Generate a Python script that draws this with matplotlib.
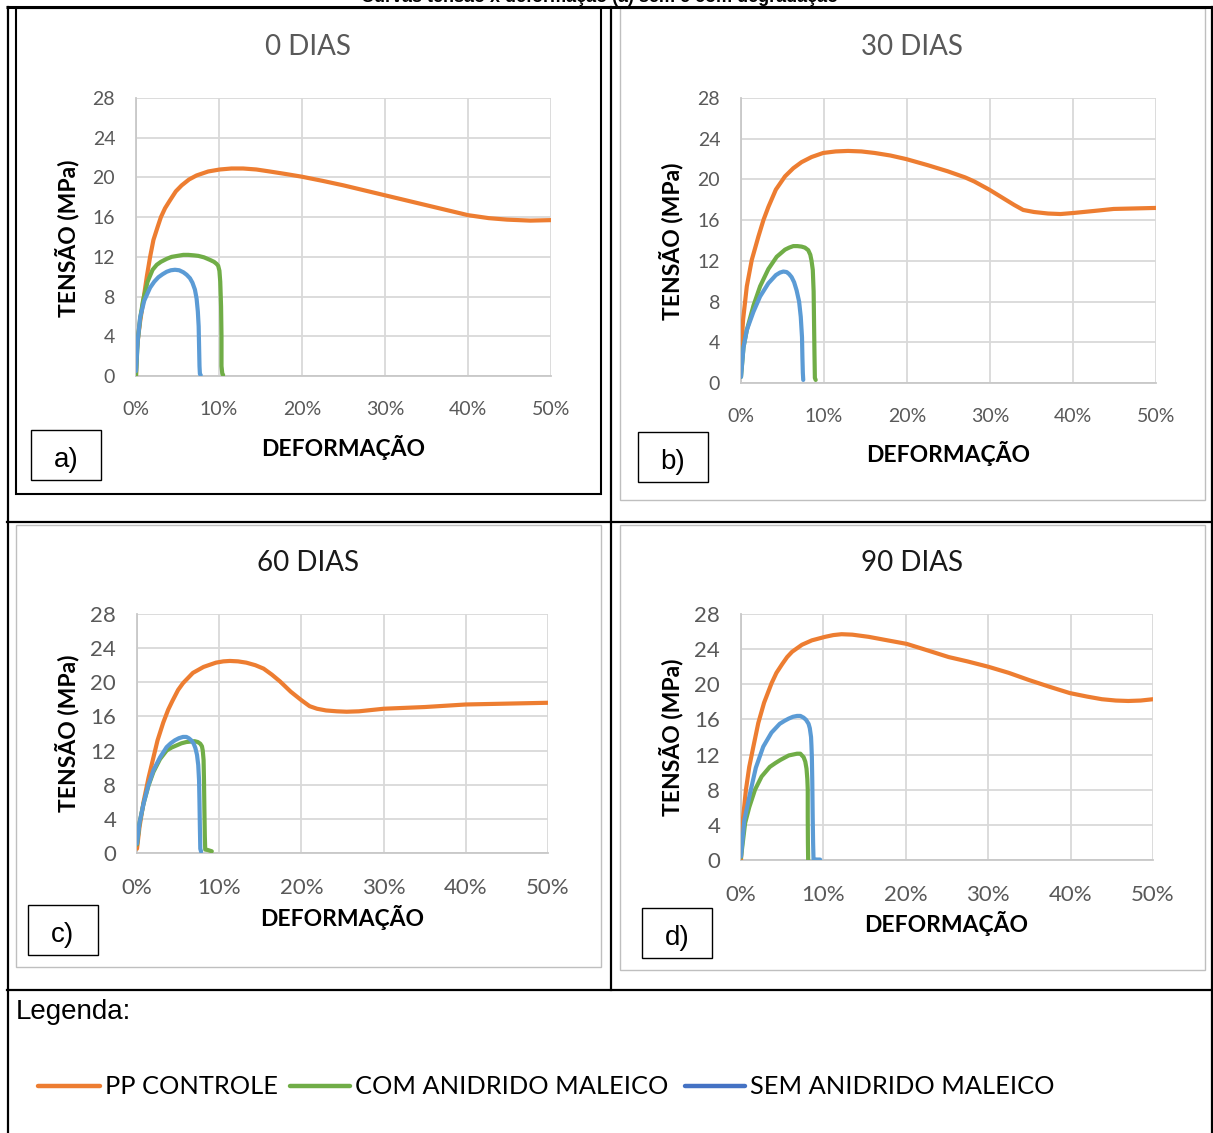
import matplotlib
matplotlib.use("Agg")
import matplotlib.pyplot as plt
from matplotlib.patches import Rectangle
from matplotlib.ticker import PercentFormatter, MultipleLocator

W, H = 1213, 1133

# series colours
ORANGE = "#ED7D31"
GREEN = "#70AD47"
BLUE = "#5B9BD5"
BLUE_LEG = "#4472C4"

# ---- data (strain in %, stress in MPa) ----
# 0 DIAS
a_pp_x = [0, 0.1, 0.3, 0.5, 0.9, 1.3, 1.7, 2.1, 2.6, 3.0, 3.5, 4.1, 4.8, 5.5, 6.4, 7.3, 8.7, 10.1, 11.5, 12.9,
          14.5, 16.1, 18, 20, 22.5, 25, 27.5, 30, 32.5, 35, 37.5, 40, 42.5, 44.7, 47.5, 50]
a_pp_y = [0, 2.6, 4.2, 5.5, 7.7, 10.0, 12.0, 13.7, 15.0, 16.0, 16.9, 17.7, 18.6, 19.2, 19.8, 20.2, 20.6, 20.8, 20.9, 20.9,
          20.8, 20.6, 20.35, 20.07, 19.65, 19.2, 18.7, 18.2, 17.7, 17.2, 16.7, 16.2, 15.9, 15.75, 15.65, 15.7]
a_com_x = [0, 0.2, 0.5, 0.85, 1.4, 2, 2.5, 3, 3.7, 4.3, 5, 5.7, 6.3, 7, 7.5, 8.2, 8.9, 9.4, 9.7, 9.9,
           10.05, 10.15, 10.25, 10.3, 10.3, 10.4, 10.5]
a_com_y = [0, 3.5, 5.8, 7.6, 9.5, 10.7, 11.2, 11.5, 11.8, 12.0, 12.1, 12.2, 12.2, 12.15, 12.1, 11.95, 11.7, 11.5, 11.3, 11.1,
           10.6, 9.5, 7, 4, 1, 0.2, 0.1]
a_sem_x = [0, 0.2, 0.5, 1, 1.7, 2.2, 2.7, 3.2, 3.7, 4.2, 4.7, 5.2, 5.7, 6.1, 6.5, 6.8, 7.1, 7.3, 7.45, 7.55,
           7.6, 7.65, 7.7, 7.8]
a_sem_y = [0.5, 3.5, 5.9, 7.6, 8.9, 9.5, 9.95, 10.25, 10.5, 10.65, 10.7, 10.65, 10.45, 10.2, 9.85, 9.4, 8.7, 7.8, 6.5, 5.0,
           3.0, 1.0, 0.2, 0.1]

# 30 DIAS
b_pp_x = [0, 0.25, 0.7, 1.3, 2.1, 2.7, 3.3, 4.2, 5.3, 6.3, 7.3, 8.5, 9.9, 11.4, 12.9, 14.5, 16.1, 18, 19.9, 22.5,
          24.9, 27, 28.1, 29.9, 31.5, 32.9, 34, 35.3, 37, 38.5, 40, 42.5, 44.9, 47.5, 50]
b_pp_y = [2.8, 6.2, 9.5, 12.1, 14.4, 16.0, 17.3, 19.0, 20.3, 21.1, 21.7, 22.2, 22.6, 22.75, 22.8, 22.75, 22.6, 22.35, 22.0, 21.4,
          20.8, 20.2, 19.8, 19.0, 18.2, 17.5, 17.0, 16.8, 16.65, 16.6, 16.7, 16.9, 17.1, 17.15, 17.2]
b_com_x = [0, 0.3, 0.7, 1.5, 2.3, 3.3, 4.3, 5.3, 5.8, 6.3, 6.8, 7.3, 7.7, 8.1, 8.35, 8.5, 8.65, 8.75, 8.8, 8.85,
           8.9, 9.0]
b_com_y = [0.6, 3.5, 5.2, 7.6, 9.5, 11.2, 12.4, 13.1, 13.3, 13.45, 13.45, 13.4, 13.3, 13.05, 12.6, 12.0, 11.1, 9, 6, 3,
           0.5, 0.3]
b_sem_x = [0, 0.3, 0.7, 1.5, 2.3, 3.3, 4.2, 4.7, 5.1, 5.5, 5.8, 6.1, 6.4, 6.7, 7.0, 7.2, 7.35, 7.4, 7.45, 7.5]
b_sem_y = [0.6, 3.5, 5.2, 7.0, 8.5, 9.8, 10.6, 10.85, 10.95, 10.9, 10.7, 10.4, 9.9, 9.1, 8.0, 6.5, 4.5, 2.5, 1.0, 0.3]

# 60 DIAS
c_pp_x = [0, 0.3, 0.8, 1.4, 2.0, 2.5, 3.2, 3.8, 4.3, 5.0, 5.6, 6.8, 8.1, 9.6, 10.5, 11.3, 12.3, 13.3, 14.4, 15.4,
          16.4, 17.4, 18.7, 20, 21, 21.9, 23, 24.3, 25.5, 27, 30, 32.5, 35, 37.5, 40, 42.5, 45, 47.5, 50]
c_pp_y = [0.5, 3.0, 6.0, 8.8, 11.2, 13.2, 15.3, 16.8, 17.8, 19.1, 19.9, 21.1, 21.8, 22.3, 22.45, 22.5, 22.45, 22.3, 22.0, 21.6,
          20.9, 20.1, 18.9, 17.9, 17.2, 16.9, 16.7, 16.6, 16.55, 16.6, 16.9, 17.0, 17.1, 17.25, 17.4, 17.45, 17.5, 17.55, 17.6]
c_com_x = [0, 0.3, 0.8, 1.4, 2.0, 2.8, 3.6, 4.2, 4.8, 5.4, 6.0, 6.5, 7.0, 7.4, 7.7, 7.9, 8.0, 8.1, 8.15, 8.2,
           8.25, 8.3, 8.6, 9.1]
c_com_y = [1.0, 3.5, 5.8, 7.9, 9.5, 11.0, 12.0, 12.35, 12.6, 12.85, 13.0, 13.05, 13.1, 13.0, 12.8, 12.5, 12.0, 10.9, 8.5, 5.0,
           2.0, 0.4, 0.35, 0.2]
c_sem_x = [0, 0.3, 0.8, 1.4, 2.0, 2.8, 3.6, 4.1, 4.6, 5.1, 5.6, 6.0, 6.3, 6.6, 6.9, 7.1, 7.3, 7.45, 7.55, 7.6,
           7.65, 7.7, 7.8]
c_sem_y = [1.1, 3.5, 5.8, 8.0, 9.7, 11.2, 12.4, 12.85, 13.2, 13.45, 13.6, 13.6, 13.45, 13.2, 12.8, 12.3, 11.5, 10.3, 8.5, 6.0,
           3.0, 0.5, 0.15]

# 90 DIAS
d_pp_x = [0, 0.1, 0.6, 1.0, 1.5, 2.1, 2.8, 3.7, 4.3, 5.0, 5.6, 6.2, 7.4, 8.6, 10.2, 11.2, 12.2, 13.5, 15.5, 17.5,
          20.1, 22.5, 25.2, 27.5, 30, 32.5, 34.9, 37.5, 39.9, 42, 43.8, 45.5, 47, 48.5, 50]
d_pp_y = [0, 3.4, 8.0, 10.6, 12.9, 15.6, 17.9, 20.1, 21.3, 22.3, 23.1, 23.7, 24.5, 25.0, 25.4, 25.6, 25.7, 25.65, 25.4, 25.05,
          24.6, 23.9, 23.1, 22.6, 22.0, 21.3, 20.5, 19.7, 19.0, 18.6, 18.3, 18.15, 18.1, 18.15, 18.3]
d_com_x = [0, 0.5, 1.0, 1.7, 2.5, 3.5, 4.2, 4.8, 5.3, 5.8, 6.3, 6.8, 7.2, 7.6, 7.8, 7.95, 8.05, 8.1, 8.1, 8.12, 8.15]
d_com_y = [0.3, 4.2, 6.0, 8.0, 9.5, 10.6, 11.05, 11.4, 11.65, 11.9, 12.0, 12.1, 12.1, 11.7, 11.2, 10.4, 9.2, 8.0, 5, 2, 0]
d_sem_x = [0, 0.4, 1.1, 1.8, 2.7, 3.7, 4.7, 5.3, 5.8, 6.3, 6.8, 7.2, 7.6, 7.9, 8.2, 8.35, 8.5, 8.55, 8.6, 8.65,
           8.7, 8.75, 8.8, 9.2, 9.6]
d_sem_y = [0.4, 4.5, 7.6, 10.5, 12.9, 14.5, 15.5, 15.85, 16.1, 16.3, 16.4, 16.4, 16.2, 15.95, 15.5, 15.0, 14.0, 13.0, 11.7, 9,
           5, 2, 0.1, 0.05, 0.05]

titles = ["0 DIAS", "30 DIAS", "60 DIAS", "90 DIAS"]
letters = ["a)", "b)", "c)", "d)"]
series_names = ["PP CONTROLE", "COM ANIDRIDO MALEICO", "SEM ANIDRIDO MALEICO"]

panels = [
    [(a_pp_x, a_pp_y), (a_com_x, a_com_y), (a_sem_x, a_sem_y)],
    [(b_pp_x, b_pp_y), (b_com_x, b_com_y), (b_sem_x, b_sem_y)],
    [(c_pp_x, c_pp_y), (c_com_x, c_com_y), (c_sem_x, c_sem_y)],
    [(d_pp_x, d_pp_y), (d_com_x, d_com_y), (d_sem_x, d_sem_y)],
]

# ---- layout in pixels ----
# plot areas: left, right, top, bottom
plot_px = [(136, 551, 98, 376), (741, 1156, 98, 383), (137, 548, 614, 853), (741, 1153, 614, 860)]
frames = [(16, 601, 8, 494), (620, 1205, 8, 500), (16, 601, 525, 967), (620, 1205, 525, 970)]
frame_cols = ["black", "#BFBFBF", "#BFBFBF", "#BFBFBF"]
title_pos = [(308, 47), (912, 47), (308, 563), (912, 563)]
title_cols = ["#595959", "#595959", "#1a1a1a", "#1a1a1a"]
xlab_pos = [(343, 447), (948, 453), (342, 918), (946, 923)]
ylab_pos = [(67, 238), (671, 241), (67, 733), (671, 737)]
box_pos = [(31, 430), (638, 432), (28, 905), (642, 908)]
tick_fs = [14, 14, 16, 16]

CHART_FONT = "Lato"
BOX_FONT = "Liberation Sans"

fig = plt.figure(figsize=(W / 100, H / 100), dpi=100)

bg = fig.add_axes([0, 0, 1, 1])
bg.set_xlim(0, W)
bg.set_ylim(H, 0)
bg.axis("off")

# heading of the page, cut off at the very top
bg.text(600, 2.5, "Curvas tensão x deformação (a) sem e com degradação", ha="center", va="baseline",
        fontsize=13, fontweight="bold", family=BOX_FONT, color="black")

# table lines
lw_tab = 1.6
bg.plot([6, 1213], [7, 7], color="black", lw=2.2, solid_capstyle="butt")
bg.plot([7.5, 7.5], [7, 1133], color="black", lw=lw_tab)
bg.plot([611, 611], [7, 990], color="black", lw=lw_tab)
bg.plot([1211.5, 1211.5], [7, 1133], color="black", lw=lw_tab)
bg.plot([7, 1213], [522, 522], color="black", lw=lw_tab)
bg.plot([7, 1213], [990, 990], color="black", lw=lw_tab)

for i in range(4):
    l, r, t, b = frames[i]
    bg.add_patch(Rectangle((l, t), r - l, b - t, facecolor="white", edgecolor=frame_cols[i],
                           lw=1.5 if i == 0 else 1.0))

colors = [ORANGE, GREEN, BLUE]

for i in range(4):
    l, r, t, b = plot_px[i]
    ax = fig.add_axes([l / W, 1 - b / H, (r - l) / W, (b - t) / H])
    ax.set_facecolor("none")
    for (xs, ys), c in zip(panels[i], colors):
        ax.plot(xs, ys, color=c, lw=3.0, solid_capstyle="round", solid_joinstyle="round", zorder=3)
    ax.set_xlim(0, 50)
    ax.set_ylim(0, 28)
    ax.xaxis.set_major_locator(MultipleLocator(10))
    ax.yaxis.set_major_locator(MultipleLocator(4))
    ax.xaxis.set_major_formatter(PercentFormatter(xmax=100, decimals=0))
    ax.grid(True, color="#D9D9D9", lw=1.3)
    ax.set_axisbelow(True)
    for s in ["top", "right"]:
        ax.spines[s].set_visible(False)
    for s in ["left", "bottom"]:
        ax.spines[s].set_color("#C8C8C8")
        ax.spines[s].set_linewidth(1.3)
    ax.tick_params(length=0, labelsize=tick_fs[i], labelcolor="#595959")
    ax.tick_params(axis="x", pad=18)
    ax.tick_params(axis="y", pad=15)
    for lab in ax.get_xticklabels() + ax.get_yticklabels():
        lab.set_family(CHART_FONT)

    tx, ty = title_pos[i]
    bg.text(tx, ty, titles[i], ha="center", va="center", fontsize=20, family=CHART_FONT,
            color=title_cols[i])
    xx, xy = xlab_pos[i]
    bg.text(xx, xy, "DEFORMAÇÃO", ha="center", va="center", fontsize=16.5, fontweight="bold",
            family=CHART_FONT, color="black")
    yx, yy = ylab_pos[i]
    bg.text(yx, yy, "TENSÃO (MPa)", ha="center", va="center", rotation=90, fontsize=16.5,
            fontweight="bold", family=CHART_FONT, color="black")

    bx, by = box_pos[i]
    bg.add_patch(Rectangle((bx, by), 70, 50, facecolor="white", edgecolor="black", lw=1.0))
    bg.text(bx + 35, by + 30, letters[i], ha="center", va="center", fontsize=20,
            family=BOX_FONT, color="black")

# legend block
bg.text(16, 1012, "Legenda:", ha="left", va="center", fontsize=20, family=BOX_FONT, color="black")
leg_cols = [ORANGE, GREEN, BLUE_LEG]
leg_x = [(38, 100), (290, 350), (685, 745)]
for (x0, x1), c, name in zip(leg_x, leg_cols, series_names):
    bg.plot([x0, x1], [1086, 1086], color=c, lw=3.2, solid_capstyle="round")
    bg.text(x1 + 5, 1086, name, ha="left", va="center", fontsize=18.3, family=CHART_FONT, color="black")

fig.savefig("out.png", dpi=100)
